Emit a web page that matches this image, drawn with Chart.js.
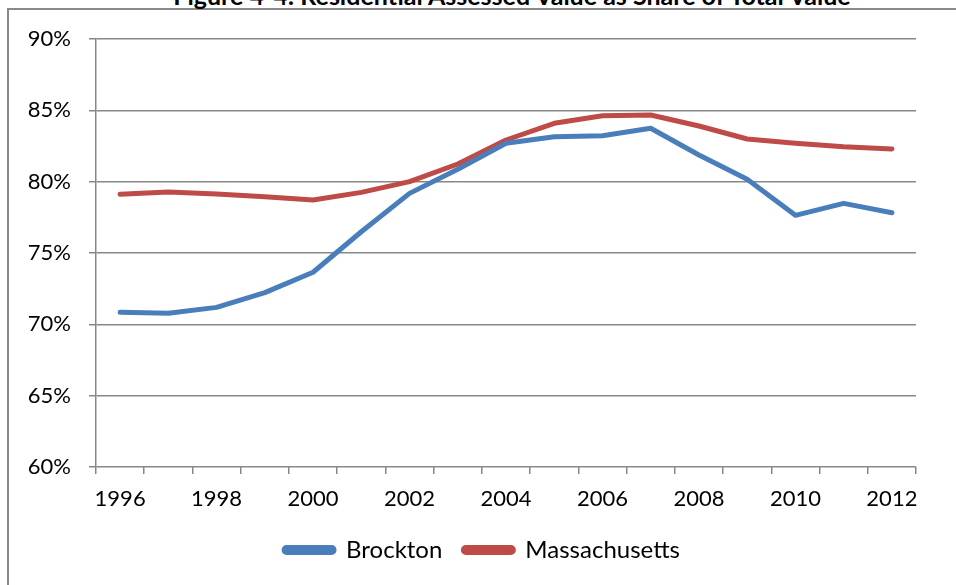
<!DOCTYPE html>
<html>
<head>
<meta charset="utf-8">
<script src="https://cdn.jsdelivr.net/npm/chart.js@4"></script>
<style>
  html, body { margin: 0; padding: 0; background: #fff; overflow: hidden; }
  #frame { position: absolute; left: 7px; top: 8px; width: 1100px; height: 700px;
           border: 2px solid #8a8a8a; box-sizing: border-box; }
  #title { position: absolute; left: 0; width: 1024px; top: -19px; text-align: center;
           font: bold 25px Lato, sans-serif; line-height: 29px; color: #000; white-space: nowrap; }
  #wrap { position: absolute; left: 0; top: 0; width: 956px; height: 585px; }
</style>
</head>
<body>
<div id="frame"></div>
<div id="title">Figure 4-4: Residential Assessed Value as Share of Total Value</div>
<div id="wrap"><canvas id="lineChart" width="956" height="585"></canvas></div>
<script>
// years on the x axis
var years = ["1996","1997","1998","1999","2000","2001","2002","2003","2004",
             "2005","2006","2007","2008","2009","2010","2011","2012"];

// residential share of total assessed value, percent
var brockton = [70.84, 70.77, 71.19, 72.22, 73.65, 76.49, 79.18, 80.87, 82.69,
                83.15, 83.22, 83.74, 81.87, 80.17, 77.64, 78.48, 77.82];
var massachusetts = [79.11, 79.28, 79.13, 78.95, 78.71, 79.25, 80.0, 81.24, 82.92,
                     84.09, 84.62, 84.67, 83.90, 82.99, 82.69, 82.45, 82.29];

// y axis range
var yMin = 60, yMax = 90, yStep = 5;

Chart.defaults.font.family = "Lato, sans-serif";
Chart.defaults.font.size = 22;
Chart.defaults.color = "#000";

// nudge the legend right so it sits centred under the whole frame
var legendShift = {
    id: 'legendShift',
    afterLayout: function(chart) {
        chart.legend.left += 24;
        chart.legend.right += 24;
    }
};

new Chart(document.getElementById("lineChart"), {
    type: 'line',
    data: {
      labels: years,
      datasets: [{
        label: "Brockton",
        data: brockton,
        borderColor: "#4a7ebb",
        backgroundColor: "#4a7ebb",
        borderWidth: 5,
        pointRadius: 0,
        borderCapStyle: 'round',
        borderJoinStyle: 'round',
        tension: 0
      }, {
        label: "Massachusetts",
        data: massachusetts,
        borderColor: "#be4b48",
        backgroundColor: "#be4b48",
        borderWidth: 5,
        pointRadius: 0,
        borderCapStyle: 'round',
        borderJoinStyle: 'round',
        tension: 0
      }]
    },
    plugins: [legendShift],
    options: {
        responsive: false,
        animation: false,
        layout: { padding: { top: 39, right: 40, left: 0, bottom: 13 } },
        plugins: {
            tooltip: { enabled: false },
            legend: {
                position: 'bottom',
                labels: {
                    boxWidth: 50, boxHeight: 5, padding: 21,
                    useBorderRadius: true, borderRadius: 2.5,
                    font: { size: 24 }
                }
            }
        },
        scales: {
            x: {
                offset: true,
                grid: { offset: true, drawOnChartArea: false, color: "#888", lineWidth: 1.5, tickLength: 7 },
                border: { display: false },
                ticks: {
                    autoSkip: false,
                    maxRotation: 0,
                    padding: 12,
                    callback: function(val, i) { return i % 2 === 0 ? years[i] : ''; }
                },
                afterFit: function(scale) { scale.height = 50; }
            },
            y: {
                min: yMin,
                max: yMax,
                grid: { color: "#888", lineWidth: 1.5, tickLength: 7 },
                border: { color: "#888", width: 1.5 },
                ticks: {
                    stepSize: yStep,
                    padding: 18,
                    callback: function(v) { return Math.round(v) + '%'; }
                },
                afterFit: function(scale) { scale.width = 96; }
            }
        }
    }
});
</script>
</body>
</html>
